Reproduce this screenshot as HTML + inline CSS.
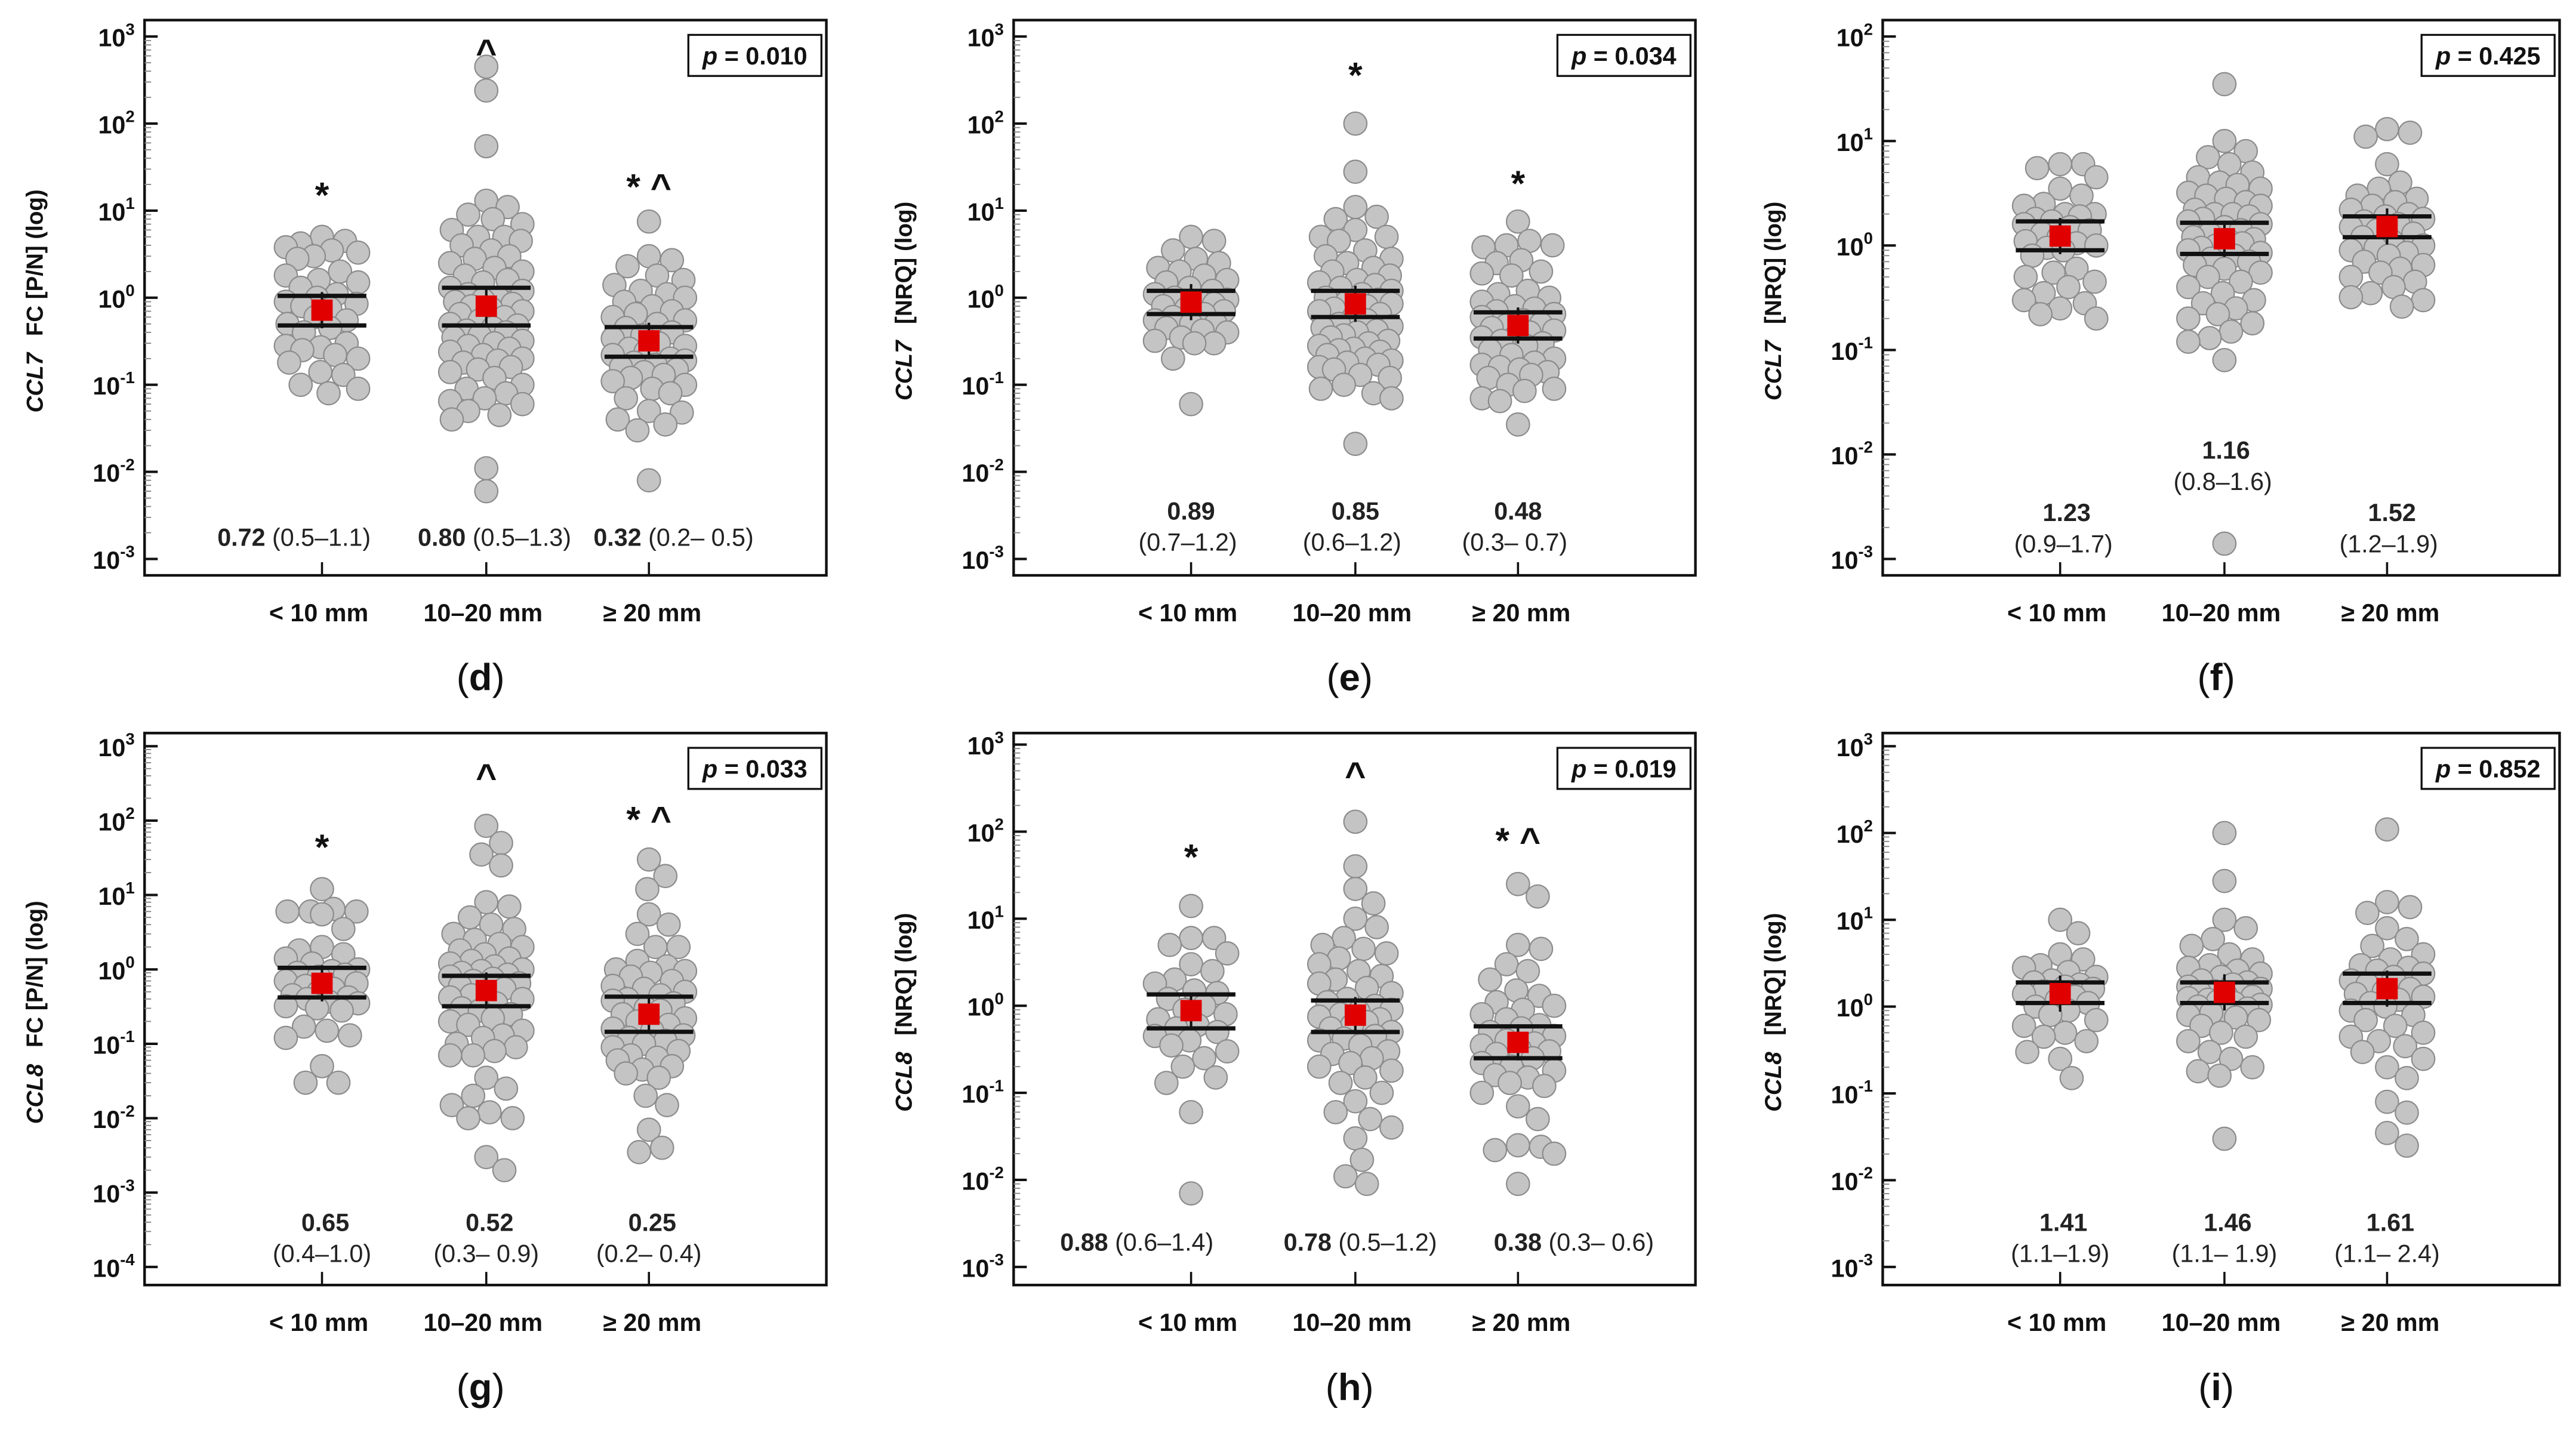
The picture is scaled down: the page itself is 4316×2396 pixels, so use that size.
<!DOCTYPE html>
<html><head><meta charset="utf-8">
<style>
html,body{margin:0;padding:0;background:#fff;}
svg{display:block;}
text{font-family:"Liberation Sans",Arial,sans-serif;}
</style></head>
<body>
<svg id="fig" width="4316" height="2396" viewBox="0 0 1568 870" xmlns="http://www.w3.org/2000/svg"></svg>
<script>
// ---------- data ----------
const categories = ["< 10 mm", "10\u201320 mm", "\u2265 20 mm"];

const dVals = [
 [4.5,3.8,4.2,5,3.5,3,2.8,3.3,2,1.8,1.5,1.6,1.3,1,0.9,0.85,0.8,1.1,0.75,0.6,0.55,0.5,0.45,0.4,0.3,0.28,0.25,0.27,0.2,0.18,0.22,0.13,0.14,0.1,0.08,0.09],
 [450,240,55,13,11,9,8,7,6,5,5,4.5,4,3.5,3,2.8,2.5,2.2,2,1.8,1.6,1.5,1.3,1.2,1.1,1,0.95,0.9,0.85,0.8,0.75,0.7,0.65,0.6,0.55,0.5,0.48,0.45,0.42,0.4,0.37,0.35,0.32,0.3,0.28,0.26,0.24,0.22,0.2,0.19,0.18,0.16,0.15,0.14,0.12,0.1,0.09,0.08,0.07,0.065,0.06,0.05,0.045,0.04,0.011,0.006],
 [7.5,3,2.7,2.3,1.8,1.6,1.4,1.2,1.1,1,0.9,0.8,0.7,0.65,0.6,0.55,0.5,0.45,0.4,0.37,0.34,0.3,0.28,0.26,0.24,0.22,0.2,0.19,0.18,0.17,0.16,0.15,0.14,0.13,0.12,0.11,0.1,0.09,0.08,0.07,0.05,0.048,0.04,0.035,0.03,0.008]
];
const eVals = [
 [5,4.5,3.5,2.8,2.5,2.2,2,1.8,1.6,1.5,1.3,1.2,1.1,1,0.95,0.9,0.85,0.8,0.75,0.7,0.65,0.6,0.55,0.5,0.5,0.45,0.42,0.4,0.35,0.32,0.3,0.3,0.2,0.06],
 [100,28,11,8.5,8,6,5,5,4.5,3.5,3,2.8,2.5,2.2,2,1.8,1.6,1.5,1.4,1.3,1.2,1.1,1,0.95,0.9,0.85,0.8,0.75,0.7,0.65,0.6,0.55,0.5,0.47,0.45,0.42,0.4,0.37,0.35,0.32,0.3,0.28,0.26,0.25,0.24,0.22,0.2,0.19,0.18,0.17,0.16,0.15,0.13,0.12,0.1,0.09,0.08,0.07,0.021],
 [7.5,4.5,4,4,3.8,2.7,2.5,2,1.9,1.8,1.2,1.1,1,0.9,0.8,0.75,0.7,0.65,0.6,0.55,0.5,0.48,0.45,0.42,0.4,0.37,0.35,0.32,0.3,0.28,0.25,0.22,0.2,0.18,0.17,0.16,0.15,0.14,0.13,0.12,0.1,0.09,0.085,0.07,0.065,0.035]
];
const fVals = [
 [6,6,5.5,4.5,3.5,3,2.5,2.4,2,2,1.9,1.8,1.7,1.6,1.5,1.4,1.3,1.2,1.1,1.05,1,0.95,0.9,0.8,0.6,0.55,0.5,0.45,0.4,0.35,0.3,0.28,0.25,0.22,0.2],
 [35,10,8,7,6,5,4.5,4,3.8,3.5,3.2,3,2.8,2.6,2.4,2.2,2,2,1.9,1.8,1.7,1.6,1.5,1.4,1.3,1.2,1.15,1.1,1.05,1,0.95,0.9,0.85,0.8,0.75,0.7,0.65,0.6,0.55,0.5,0.45,0.4,0.35,0.3,0.28,0.25,0.22,0.2,0.18,0.15,0.13,0.12,0.08,0.0014],
 [13,12,11,6,4,3.5,3,2.8,2.6,2.4,2.2,2,1.9,1.8,1.7,1.6,1.5,1.4,1.3,1.2,1.1,1,0.95,0.9,0.85,0.8,0.7,0.65,0.6,0.55,0.5,0.45,0.4,0.35,0.32,0.3,0.26]
];
const gVals = [
 [12,6.5,6,6,6,5.5,3.5,2,1.8,1.6,1.4,1.2,1,0.95,0.9,0.85,0.8,0.7,0.65,0.6,0.55,0.5,0.45,0.42,0.4,0.37,0.35,0.32,0.3,0.28,0.17,0.15,0.13,0.12,0.05,0.03,0.03],
 [85,50,35,25,8,7,5,4,3.5,3,2.5,2.2,2,1.8,1.6,1.4,1.3,1.2,1.1,1,0.95,0.9,0.85,0.8,0.75,0.7,0.65,0.6,0.55,0.5,0.45,0.42,0.4,0.35,0.3,0.28,0.25,0.22,0.2,0.18,0.15,0.13,0.12,0.1,0.09,0.08,0.07,0.07,0.035,0.025,0.02,0.015,0.012,0.01,0.01,0.003,0.002],
 [30,18,12,5.5,4,3,2,2,1.3,1.1,1,0.95,0.9,0.8,0.7,0.6,0.55,0.5,0.45,0.4,0.38,0.35,0.3,0.28,0.25,0.22,0.2,0.18,0.16,0.15,0.13,0.12,0.11,0.1,0.09,0.08,0.07,0.065,0.06,0.05,0.045,0.04,0.035,0.02,0.015,0.007,0.004,0.0035]
];
const hVals = [
 [14,6,6,5,4,3,2.5,2,1.8,1.5,1.4,1.2,1,0.9,0.8,0.7,0.6,0.55,0.5,0.45,0.4,0.35,0.3,0.25,0.2,0.15,0.13,0.06,0.007],
 [130,40,22,15,10,8,6,5,4.5,4,3.5,3,2.5,2.2,2,1.8,1.6,1.4,1.2,1.1,1,0.9,0.85,0.8,0.75,0.7,0.65,0.6,0.55,0.5,0.45,0.42,0.4,0.35,0.3,0.28,0.25,0.22,0.2,0.18,0.15,0.13,0.1,0.08,0.06,0.05,0.04,0.03,0.017,0.011,0.009],
 [25,18,5,4.5,3,2.5,2,1.5,1.3,1.1,1,0.9,0.8,0.7,0.6,0.55,0.5,0.45,0.4,0.37,0.35,0.32,0.3,0.28,0.25,0.22,0.2,0.18,0.16,0.15,0.13,0.12,0.1,0.07,0.05,0.025,0.024,0.022,0.02,0.009]
];
const iVals = [
 [10,7,4,3.5,3,2.8,2.5,2.2,2,1.9,1.8,1.7,1.6,1.5,1.4,1.3,1.2,1.1,1,0.9,0.8,0.7,0.6,0.5,0.45,0.4,0.3,0.25,0.15],
 [100,28,10,8,6,5,4,3.5,3,2.8,2.6,2.4,2.2,2,1.9,1.8,1.7,1.6,1.5,1.45,1.4,1.35,1.3,1.25,1.2,1.15,1.1,1.05,1,0.95,0.9,0.85,0.8,0.75,0.7,0.6,0.5,0.45,0.4,0.3,0.25,0.2,0.18,0.16,0.03],
 [110,16,14,12,8,6,5,4,3.5,3,2.8,2.6,2.4,2.2,2,1.8,1.6,1.5,1.4,1.3,1.2,1.1,1,0.9,0.8,0.7,0.6,0.5,0.45,0.4,0.35,0.3,0.25,0.2,0.15,0.08,0.06,0.035,0.025]
];

const dMed=[0.72,0.80,0.32], dQ1=[0.48,0.48,0.21], dQ3=[1.05,1.3,0.46];
const eMed=[0.89,0.85,0.48], eQ1=[0.65,0.6,0.34], eQ3=[1.2,1.2,0.68];
const fMed=[1.23,1.16,1.52], fQ1=[0.9,0.83,1.2], fQ3=[1.7,1.65,1.9];
const gMed=[0.65,0.52,0.25], gQ1=[0.42,0.32,0.145], gQ3=[1.05,0.82,0.43];
const hMed=[0.88,0.78,0.38], hQ1=[0.55,0.5,0.25], hQ3=[1.35,1.15,0.58];
const iMed=[1.41,1.46,1.61], iQ1=[1.1,1.1,1.1], iQ3=[1.9,1.9,2.4];

const dRange=["(0.5\u20131.1)","(0.5\u20131.3)","(0.2\u2013 0.5)"];
const eRange=["(0.7\u20131.2)","(0.6\u20131.2)","(0.3\u2013 0.7)"];
const fRange=["(0.9\u20131.7)","(0.8\u20131.6)","(1.2\u20131.9)"];
const gRange=["(0.4\u20131.0)","(0.3\u2013 0.9)","(0.2\u2013 0.4)"];
const hRange=["(0.6\u20131.4)","(0.5\u20131.2)","(0.3\u2013 0.6)"];
const iRange=["(1.1\u20131.9)","(1.1\u2013 1.9)","(1.1\u2013 2.4)"];

const pValues=["0.010","0.034","0.425","0.033","0.019","0.852"];

// ---------- layout ----------
const NS="http://www.w3.org/2000/svg";
const svg=document.getElementById('fig');
function el(tag,attrs,parent){const e=document.createElementNS(NS,tag);for(const k in attrs)e.setAttribute(k,attrs[k]);(parent||svg).appendChild(e);return e;}

const panels=[
 {id:'d',gene:'CCL7',unit:'FC [P/N] (log)',vals:dVals,med:dMed,q1:dQ1,q3:dQ3,rng:dRange,p:pValues[0],x0:88,x1:503,top:12,bot:350,yTop:22,yBot:340,eTop:3,eBot:-3,mode:'single',yl:326,shift:[-17,5,15],ann:[['*',117],['^',30],['* ^',112]]},
 {id:'e',gene:'CCL7',unit:'[NRQ] (log)',vals:eVals,med:eMed,q1:eQ1,q3:eQ3,rng:eRange,p:pValues[1],x0:617,x1:1032,top:12,bot:350,yTop:22,yBot:340,eTop:3,eBot:-3,mode:'double',yl:[310,310,310],shift:[0,0,0],ann:[null,['*',44],['*',110]]},
 {id:'f',gene:'CCL7',unit:'[NRQ] (log)',vals:fVals,med:fMed,q1:fQ1,q3:fQ3,rng:fRange,p:pValues[2],x0:1146,x1:1558,top:12,bot:350,yTop:22,yBot:340,eTop:2,eBot:-3,mode:'double',yl:[311,273,311],shift:[4,1,3],ann:[null,null,null]},
 {id:'g',gene:'CCL8',unit:'FC [P/N] (log)',vals:gVals,med:gMed,q1:gQ1,q3:gQ3,rng:gRange,p:pValues[3],x0:88,x1:503,top:446,bot:782,yTop:454,yBot:771,eTop:3,eBot:-4,mode:'double',yl:[743,743,743],shift:[2,2,2],ann:[['*',514],['^',471],['* ^',497]]},
 {id:'h',gene:'CCL8',unit:'[NRQ] (log)',vals:hVals,med:hMed,q1:hQ1,q3:hQ3,rng:hRange,p:pValues[4],x0:617,x1:1032,top:446,bot:782,yTop:453,yBot:771,eTop:3,eBot:-3,mode:'single',yl:755,shift:[-33,3,34],ann:[['*',520],['^',470],['* ^',510]]},
 {id:'i',gene:'CCL8',unit:'[NRQ] (log)',vals:iVals,med:iMed,q1:iQ1,q3:iQ3,rng:iRange,p:pValues[5],x0:1146,x1:1558,top:446,bot:782,yTop:454,yBot:771,eTop:3,eBot:-3,mode:'double',yl:[743,743,743],shift:[2,2,2],ann:[null,null,null]}
];
const catOff=[108,208,307];
const R=7, MAXH=22;

function swarm(vals,yf){
  const sorted=vals.slice().sort((a,b)=>b-a);
  const placed=[];const out=[];
  const cands=[0];for(let k=1;k<=MAXH;k++){cands.push(k,-k);}
  sorted.forEach(v=>{
    const y=yf(v);let best=null,bestD=-1;
    for(const c of cands){
      let md=1e9;
      for(const p of placed){const d=Math.hypot(p.x-c,p.y-y);if(d<md)md=d;}
      if(md>=2*R-0.5){best=c;bestD=md;break;}
      if(md>bestD){bestD=md;best=c;}
    }
    placed.push({x:best,y:y});out.push({v:v,x:best,y:y});
  });
  return out;
}

panels.forEach(P=>{
  const g=el('g',{});
  
  
  const dec=(P.yBot-P.yTop)/(P.eTop-P.eBot);
  const yf=v=>P.yTop+(P.eTop-Math.log10(v))*dec;
  const fr=el('rect',{x:P.x0,y:P.top,width:P.x1-P.x0,height:P.bot-P.top,fill:'none',stroke:'#111','stroke-width':1.6},g);
  
  
  for(let e=P.eBot;e<=P.eTop;e++){
    const y=yf(Math.pow(10,e));
    const t=el('line',{x1:P.x0,x2:P.x0+8,y1:y,y2:y,stroke:'#111','stroke-width':1.5},g);
    
    
    if(e<P.eTop){for(let m=2;m<=9;m++){const ym=yf(m*Math.pow(10,e));el('line',{x1:P.x0,x2:P.x0+4,y1:ym,y2:ym,stroke:'#888','stroke-width':0.7},g);}}
    const lab=el('text',{x:P.x0-6,y:y+6,'text-anchor':'end','font-size':15,'font-weight':'bold',fill:'#111'},g);
    
    
    lab.textContent='10';
    const sp=el('tspan',{dy:-7,'font-size':10},lab);sp.textContent=String(e);
  }
  const ym=(P.top+P.bot)/2+2;
  const yl=el('text',{transform:`translate(${P.x0-62},${ym}) rotate(-90)`,'text-anchor':'middle','font-size':14,'font-weight':'bold',fill:'#111'},g);
  
  
  const t1=el('tspan',{'font-style':'italic'},yl);t1.textContent=P.gene;
  const t2=el('tspan',{dx:10},yl);t2.textContent=P.unit;
  const pb=el('rect',{x:P.x1-84,y:P.top+9,width:81,height:25,fill:'#fff',stroke:'#111','stroke-width':1.2},g);
  
  
  const pt=el('text',{x:P.x1-43.5,y:P.top+27,'text-anchor':'middle','font-size':15,'font-weight':'bold',fill:'#111'},g);
  
  
  const pi=el('tspan',{'font-style':'italic'},pt);pi.textContent='p';
  const pr=el('tspan',{},pt);pr.textContent=' = '+P.p;
  categories.forEach((c,ci)=>{
    const cx=P.x0+catOff[ci];
    const xt=el('line',{x1:cx,x2:cx,y1:P.bot,y2:P.bot-8,stroke:'#111','stroke-width':1.3},g);
    
    
    const cl=el('text',{x:cx+(ci===2?2:-2),y:P.bot+28,'text-anchor':'middle','font-size':15,'font-weight':'bold',fill:'#111'},g);
    
    
    cl.textContent=c;
    const pts=swarm(P.vals[ci],yf);
    pts.forEach(p=>{
      const d=el('circle',{cx:cx+p.x,cy:p.y,r:R,fill:'#c4c4c4',stroke:'#8c8c8c','stroke-width':0.8},g);
      
      
    });
    [P.q1[ci],P.q3[ci]].forEach(q=>{
      const l=el('line',{x1:cx-27,x2:cx+27,y1:yf(q),y2:yf(q),stroke:'#111','stroke-width':2.6},g);
      
      
    });
    const my=yf(P.med[ci]);
    const eb=el('line',{x1:cx,x2:cx,y1:my-11,y2:my+11,stroke:'#111','stroke-width':1.5},g);
    
    
    const sq=el('rect',{x:cx-6.5,y:my-6.5,width:13,height:13,fill:'#e00000'},g);
    
    
    const mx=cx+P.shift[ci];
    if(P.mode==='single'){
      const mt=el('text',{x:mx,y:P.yl+6,'text-anchor':'middle','font-size':15,fill:'#222'},g);
      
      
      const b=el('tspan',{'font-weight':'bold'},mt);b.textContent=P.med[ci].toFixed(2)+' ';
      const r=el('tspan',{},mt);r.textContent=P.rng[ci];
    } else {
      const yy=P.yl[ci];
      const mt=el('text',{x:mx,y:yy+6,'text-anchor':'middle','font-size':15,'font-weight':'bold',fill:'#222'},g);
      
      
      mt.textContent=P.med[ci].toFixed(2);
      const rt=el('text',{x:mx-2,y:yy+25,'text-anchor':'middle','font-size':15,fill:'#222'},g);
      
      
      rt.textContent=P.rng[ci];
    }
    const a=P.ann[ci];
    if(a){
      const at=el('text',{x:cx,y:a[1]+9,'text-anchor':'middle','font-size':22,'font-weight':'bold',fill:'#111'},g);
      
      
      at.textContent=a[0];
    }
  });
  const lt=el('text',{x:(P.x0+P.x1)/2-3,y:P.bot+70,'text-anchor':'middle','font-size':23,fill:'#111','font-family':'"Liberation Serif",serif'},g);
  
  
  const o=el('tspan',{},lt);o.textContent='(';
  const m=el('tspan',{'font-weight':'bold'},lt);m.textContent=P.id;
  const c2=el('tspan',{},lt);c2.textContent=')';
});
</script>
</body></html>
